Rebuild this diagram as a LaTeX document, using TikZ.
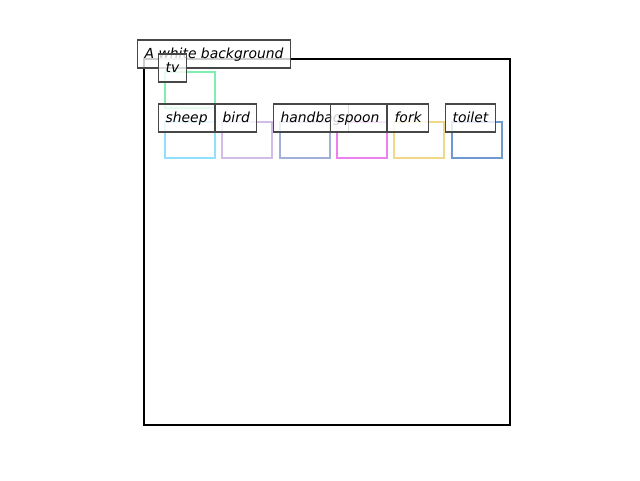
\documentclass[tikz,border=0pt]{standalone}
\usepackage{fontspec}
\setmainfont{DejaVu Sans}
\begin{document}
\begin{tikzpicture}[x=1pt,y=-1pt,
  objbox/.style={line width=2.9pt},
  lbl/.style={draw=black!72, line width=1.2pt, fill=white, fill opacity=0.8, text opacity=1,
    anchor=west, inner xsep=7pt, inner ysep=0pt, minimum height=28pt,
    font=\fontsize{13.9}{16}\selectfont\itshape, text height=11pt, text depth=1.5pt}]
\definecolor{ctv}{HTML}{80EEB0}
\definecolor{csheep}{HTML}{90E0FF}
\definecolor{cbird}{HTML}{D4BCE8}
\definecolor{chandbag}{HTML}{A0B0D8}
\definecolor{cspoon}{HTML}{EE80EE}
\definecolor{cfork}{HTML}{F0D888}
\definecolor{ctoilet}{HTML}{7098D0}
\useasboundingbox (0,0) rectangle (640,480);
\draw[line width=2.2pt] (144,59) rectangle (510,425);
\draw[objbox, ctv] (165,72) rectangle (215,108);
\draw[objbox, csheep] (165,122) rectangle (215,158);
\draw[objbox, cbird] (222,122) rectangle (272,158);
\draw[objbox, chandbag] (280,122) rectangle (330,158);
\draw[objbox, cspoon] (337,122) rectangle (387,158);
\draw[objbox, cfork] (394,122) rectangle (444,158);
\draw[objbox, ctoilet] (452,122) rectangle (502,158);
\node[lbl] (bg) at (137,54) {A white background};
\node[lbl] (tv) at (158,68) {tv};
\node[lbl] (sheep) at (158,118) {sheep};
\node[lbl] (bird) at (215,118) {bird};
\node[lbl] (handbag) at (273,118) {handbag};
\node[lbl] (spoon) at (330,118) {spoon};
\node[lbl] (fork) at (387,118) {fork};
\node[lbl] (toilet) at (445,118) {toilet};
\end{tikzpicture}
\end{document}
